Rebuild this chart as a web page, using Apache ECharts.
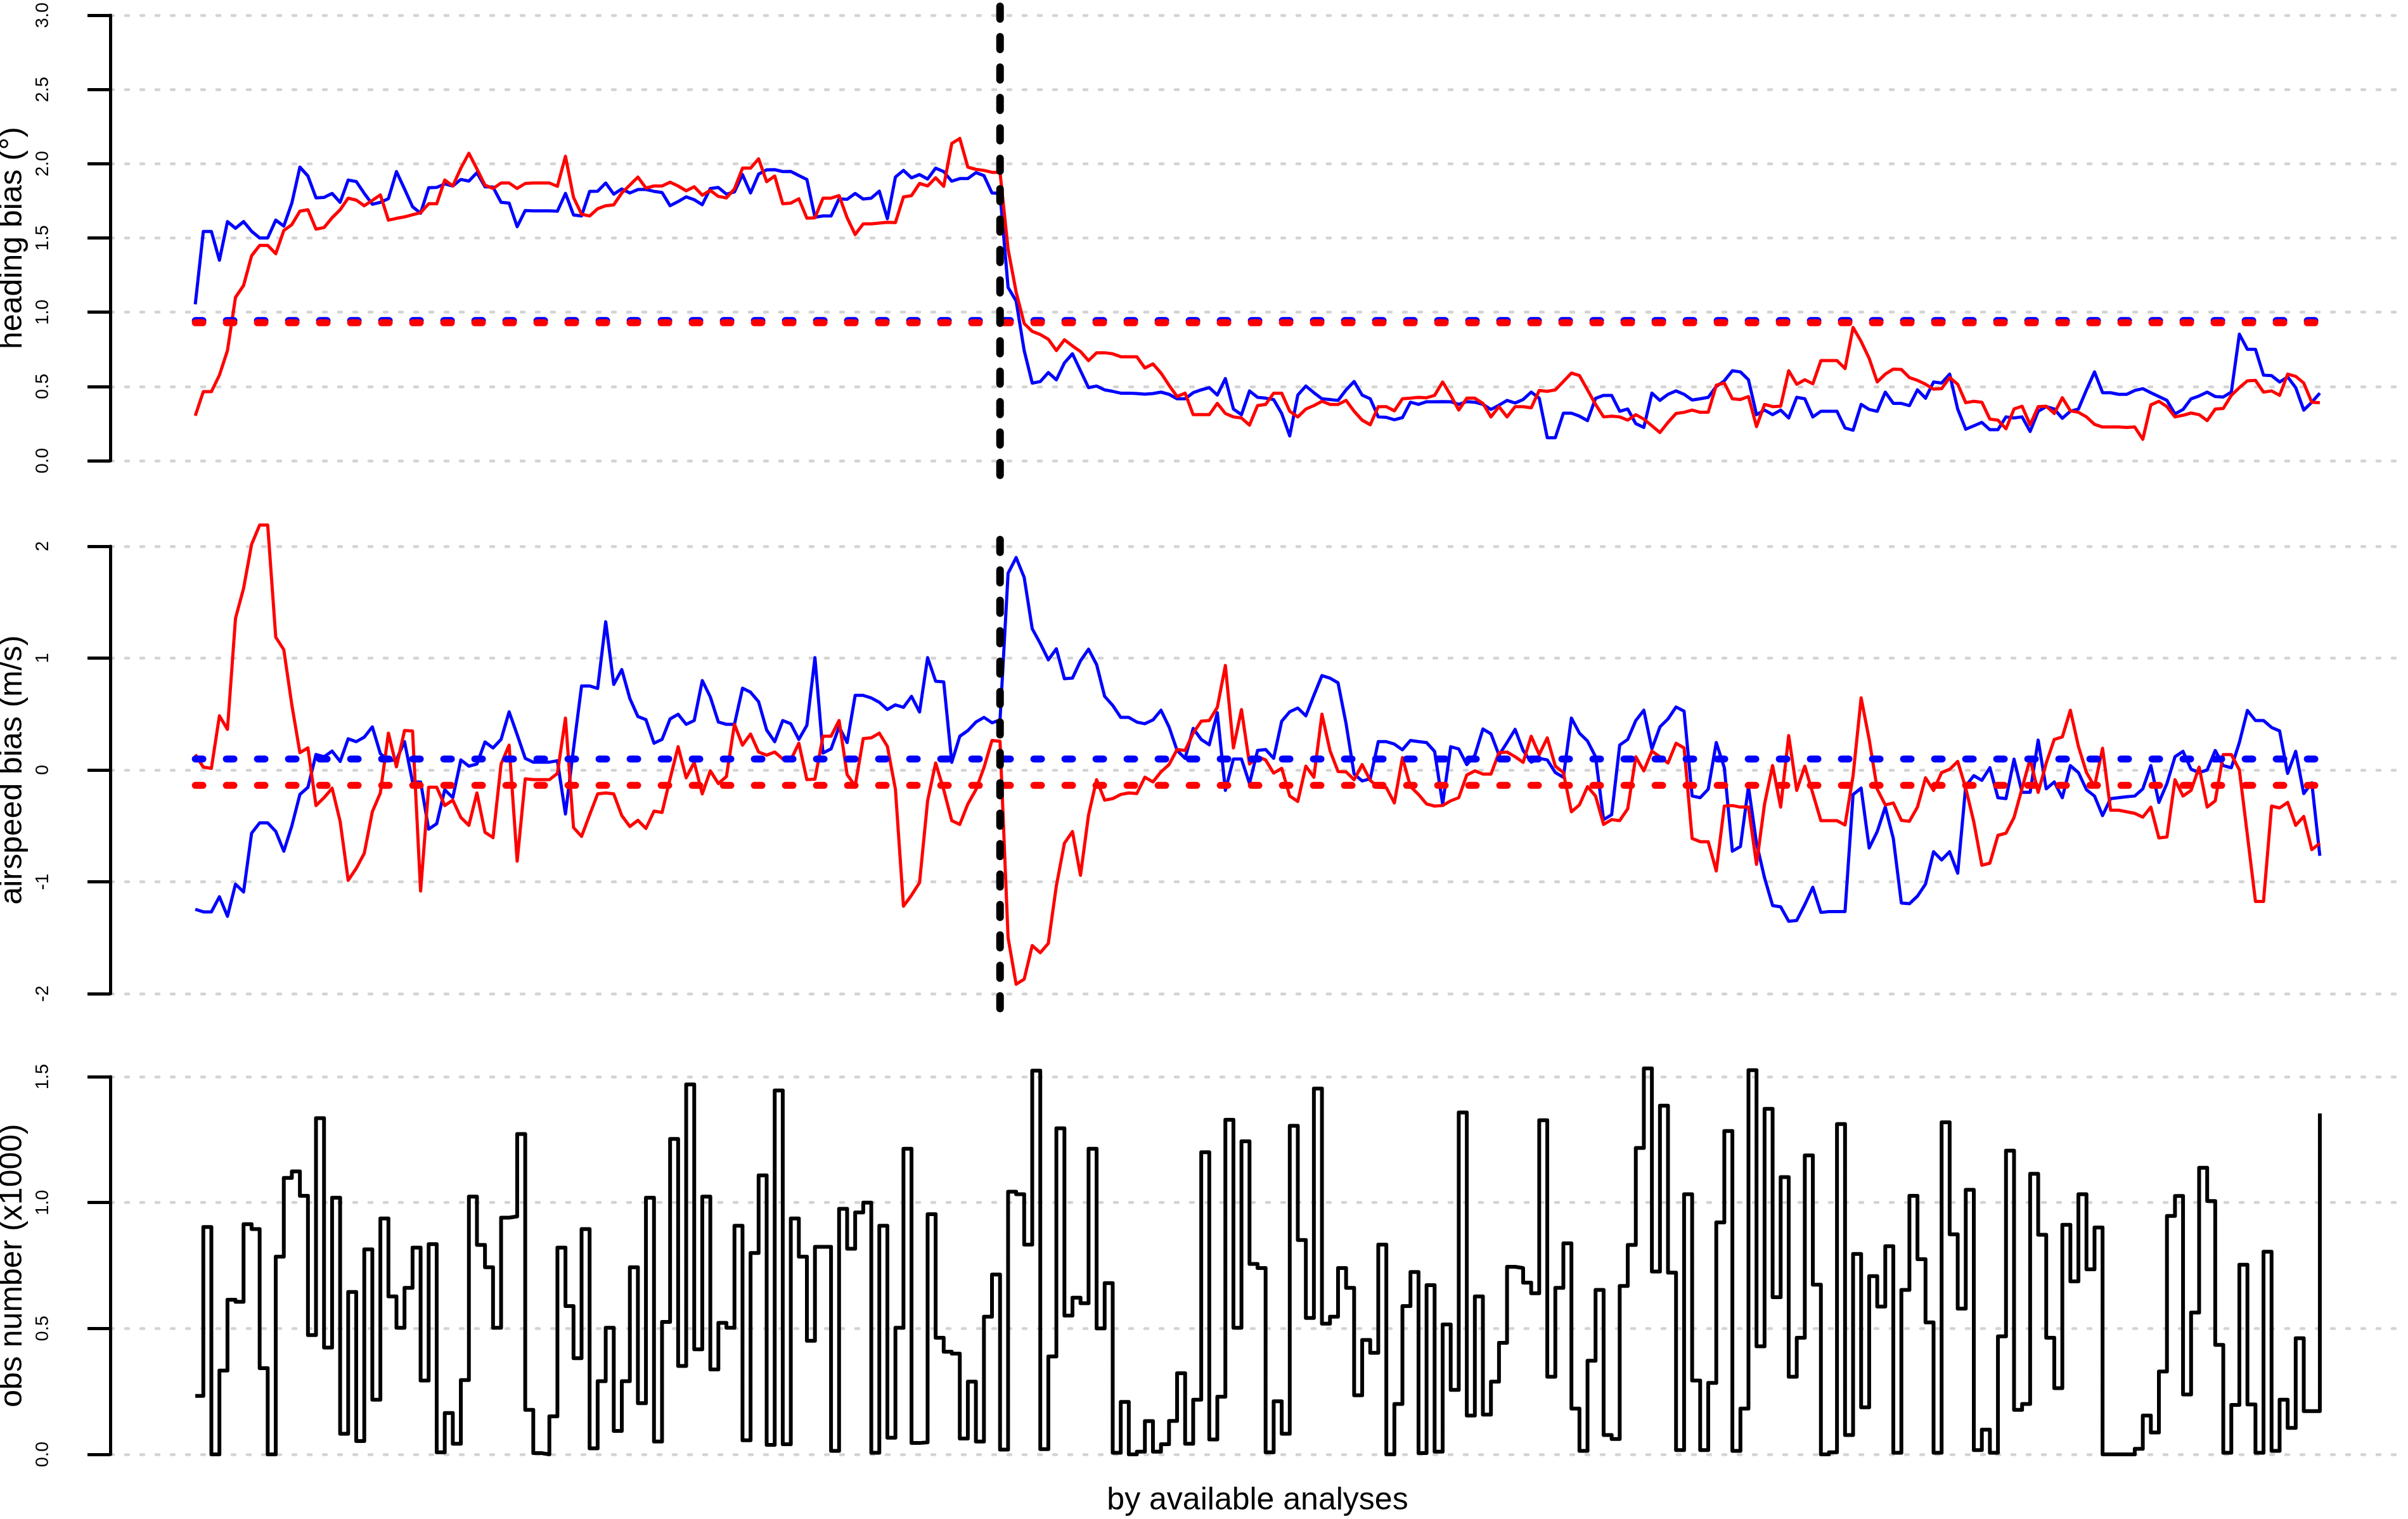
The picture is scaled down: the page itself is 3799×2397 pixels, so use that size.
<!DOCTYPE html>
<html>
<head>
<meta charset="utf-8">
<title>heading / airspeed bias</title>
<script src="https://cdn.jsdelivr.net/npm/echarts@6/dist/echarts.min.js"></script>
<style>
	html, body { margin: 0; padding: 0; background: #fff; }
	#main { width: 3799px; height: 2397px; }
</style>
</head>
<body>
<div id="main"></div>
<script>
// x = analysis index 0..264, the vertical line marks index 100
const VLINE_X = 100;

// heading bias (deg)
const headingBlue = [
	1.053, 1.544, 1.544, 1.35, 1.61, 1.565, 1.61, 1.545, 1.50, 1.50,
	1.62, 1.58, 1.735, 1.977, 1.917, 1.77, 1.773, 1.80, 1.74, 1.89,
	1.88, 1.80, 1.727, 1.74, 1.765, 1.947, 1.83, 1.71, 1.667, 1.838,
	1.84, 1.864, 1.85, 1.894, 1.883, 1.94, 1.845, 1.842, 1.74, 1.735,
	1.576, 1.685, 1.682, 1.682, 1.682, 1.68, 1.80, 1.655, 1.648, 1.814,
	1.815, 1.87, 1.795, 1.83, 1.803, 1.826, 1.826, 1.814, 1.806, 1.717,
	1.745, 1.777, 1.758, 1.724, 1.833, 1.84, 1.795, 1.81, 1.927, 1.803,
	1.93, 1.959, 1.96, 1.947, 1.948, 1.92, 1.894, 1.64, 1.648, 1.648,
	1.764, 1.76, 1.80, 1.762, 1.768, 1.815, 1.63, 1.91, 1.955,
	1.905, 1.927, 1.897, 1.97, 1.947, 1.882, 1.90, 1.90, 1.94, 1.92,
	1.803, 1.80, 1.167, 1.076, 0.742, 0.523, 0.533, 0.594, 0.545, 0.659,
	0.72, 0.606, 0.492, 0.503, 0.477, 0.467, 0.455, 0.455, 0.452, 0.448,
	0.452, 0.462, 0.447, 0.417, 0.417, 0.458, 0.477, 0.492, 0.442, 0.553,
	0.348, 0.31, 0.47, 0.427, 0.421, 0.412, 0.318, 0.167, 0.442, 0.503,
	0.458, 0.417, 0.412, 0.406, 0.477, 0.533, 0.442, 0.417, 0.295, 0.292,
	0.276, 0.29, 0.394, 0.379, 0.397, 0.397, 0.398, 0.397, 0.379, 0.398,
	0.394, 0.379, 0.345, 0.374, 0.406, 0.389, 0.412, 0.462, 0.421, 0.155,
	0.155, 0.32, 0.32, 0.30, 0.27, 0.42, 0.44, 0.44,
	0.333, 0.348, 0.25, 0.224, 0.455, 0.406, 0.447, 0.47, 0.447, 0.409,
	0.417, 0.427, 0.50, 0.538, 0.606, 0.598, 0.545, 0.31, 0.341, 0.31,
	0.341, 0.288, 0.427, 0.417, 0.295, 0.333, 0.333, 0.333, 0.22, 0.205,
	0.379, 0.345, 0.333, 0.462, 0.386, 0.386, 0.371, 0.477, 0.421, 0.53,
	0.523, 0.583, 0.348, 0.212, 0.235, 0.258, 0.209, 0.209, 0.295, 0.288,
	0.295, 0.197, 0.333, 0.364, 0.348, 0.285, 0.333, 0.348, 0.477, 0.598,
	0.458, 0.458, 0.447, 0.447, 0.473, 0.485, 0.458, 0.432, 0.406, 0.315,
	0.345, 0.417, 0.436, 0.462, 0.432, 0.429, 0.462, 0.852, 0.75, 0.75,
	0.576, 0.573, 0.53, 0.564, 0.492, 0.341, 0.394, 0.455
];
const headingRed = [
	0.303, 0.465, 0.465, 0.576, 0.742, 1.10, 1.18, 1.38, 1.45, 1.45,
	1.394, 1.55, 1.59, 1.68, 1.69, 1.56, 1.57, 1.636, 1.69, 1.768,
	1.755, 1.717, 1.753, 1.79, 1.62, 1.632, 1.642, 1.656, 1.67, 1.73,
	1.73, 1.89, 1.85, 1.97, 2.07, 1.965, 1.856, 1.833, 1.87, 1.87,
	1.833, 1.867, 1.87, 1.87, 1.87, 1.848, 2.05, 1.773, 1.66, 1.648,
	1.697, 1.717, 1.723, 1.803, 1.856, 1.91, 1.836, 1.85, 1.85, 1.876,
	1.85, 1.818, 1.845, 1.788, 1.82, 1.78, 1.77, 1.83, 1.97, 1.97,
	2.033, 1.879, 1.917, 1.73, 1.735, 1.764, 1.633, 1.636, 1.768, 1.768,
	1.785, 1.636, 1.523, 1.595, 1.595, 1.60, 1.606, 1.603, 1.776,
	1.785, 1.867, 1.85, 1.905, 1.848, 2.136, 2.17, 1.977, 1.962, 1.955,
	1.942, 1.942, 1.424, 1.136, 0.924, 0.871, 0.85, 0.818, 0.742, 0.814,
	0.773, 0.735, 0.674, 0.727, 0.727, 0.72, 0.70, 0.70, 0.70, 0.624,
	0.652, 0.59, 0.508, 0.432, 0.455, 0.31, 0.31, 0.31, 0.386, 0.318,
	0.295, 0.288, 0.24, 0.371, 0.379, 0.455, 0.455, 0.333, 0.295, 0.348,
	0.371, 0.40, 0.379, 0.379, 0.406, 0.333, 0.273, 0.242, 0.364, 0.364,
	0.336, 0.417, 0.421, 0.427, 0.424, 0.44, 0.53, 0.44, 0.341, 0.421,
	0.421, 0.386, 0.295, 0.364, 0.295, 0.364, 0.364, 0.356, 0.473, 0.467,
	0.477, 0.533, 0.59, 0.573, 0.477, 0.379, 0.295, 0.30,
	0.295, 0.273, 0.31, 0.28, 0.235, 0.19, 0.258, 0.318, 0.326, 0.341,
	0.326, 0.326, 0.508, 0.523, 0.417, 0.412, 0.432, 0.23, 0.379, 0.364,
	0.367, 0.606, 0.515, 0.545, 0.518, 0.674, 0.674, 0.674, 0.621, 0.897,
	0.803, 0.689, 0.53, 0.583, 0.617, 0.614, 0.56, 0.541, 0.515, 0.482,
	0.485, 0.56, 0.515, 0.391, 0.40, 0.394, 0.28, 0.273, 0.215, 0.348,
	0.367, 0.242, 0.364, 0.367, 0.318, 0.424, 0.336, 0.326, 0.295, 0.245,
	0.227, 0.227, 0.227, 0.224, 0.227, 0.144, 0.376, 0.40, 0.364, 0.295,
	0.306, 0.321, 0.31, 0.27, 0.348, 0.352, 0.44, 0.492, 0.538, 0.541,
	0.462, 0.47, 0.44, 0.583, 0.568, 0.523, 0.394, 0.39
];
const headingMeanBlue = 0.944;
const headingMeanRed = 0.929;

// airspeed bias (m/s)
const airBlue = [
	-1.246, -1.269, -1.269, -1.134, -1.308, -1.021, -1.091, -0.565, -0.473, -0.473,
	-0.549, -0.726, -0.50, -0.219, -0.155, 0.138, 0.118, 0.169, 0.076, 0.278,
	0.253, 0.293, 0.385, 0.146, 0.082, 0.09, 0.253, -0.107, -0.107, -0.529,
	-0.481, -0.177, -0.248, 0.09, 0.034, 0.053, 0.25, 0.197, 0.273, 0.52,
	0.315, 0.104, 0.07, 0.07, 0.07, 0.082, -0.394, 0.188, 0.751, 0.751,
	0.729, 1.325, 0.765, 0.897, 0.639, 0.478, 0.45, 0.239, 0.273, 0.456,
	0.498, 0.408, 0.442, 0.799, 0.653, 0.428, 0.408, 0.408, 0.731, 0.695,
	0.61, 0.357, 0.253, 0.442, 0.413, 0.273, 0.40, 1.004, 0.152, 0.188,
	0.385, 0.245, 0.667, 0.667, 0.644, 0.605, 0.54, 0.582, 0.56,
	0.658, 0.518, 1.004, 0.793, 0.788, 0.068, 0.301, 0.352, 0.428, 0.47,
	0.422, 0.447, 1.758, 1.899, 1.722, 1.263, 1.131, 0.985, 1.083, 0.816,
	0.821, 0.976, 1.08, 0.942, 0.658, 0.577, 0.47, 0.47, 0.428, 0.413,
	0.447, 0.534, 0.385, 0.174, 0.104, 0.371, 0.273, 0.225, 0.512, -0.183,
	0.098, 0.098, -0.121, 0.174, 0.183, 0.104, 0.436, 0.52, 0.554, 0.484,
	0.667, 0.844, 0.821, 0.779, 0.413, -0.037, -0.098, -0.079, 0.253, 0.253,
	0.231, 0.18, 0.264, 0.253, 0.245, 0.166, -0.304, 0.208, 0.188, 0.048,
	0.132, 0.366, 0.323, 0.132, 0.245, 0.363, 0.174, 0.07, 0.104, 0.09,
	-0.023, -0.065, 0.464, 0.329, 0.259, 0.118, -0.444, -0.40,
	0.222, 0.273, 0.442, 0.534, 0.188, 0.385, 0.456, 0.563, 0.526, -0.233,
	-0.248, -0.172, 0.245, 0.02, -0.726, -0.684, -0.149, -0.655, -0.965, -1.212,
	-1.224, -1.353, -1.345, -1.204, -1.049, -1.274, -1.266, -1.266, -1.266,
	-0.219, -0.163, -0.698, -0.551, -0.332, -0.613, -1.19, -1.196, -1.128, -1.021,
	-0.731, -0.804, -0.731, -0.923, -0.143, -0.051, -0.093, 0.02, -0.248, -0.256,
	0.096, -0.20, -0.20, 0.267, -0.169, -0.107, -0.248, 0.039, -0.023, -0.177,
	-0.233, -0.408, -0.256, -0.248, -0.239, -0.233, -0.169, 0.039, -0.29, -0.121,
	0.118, 0.166, 0.006, -0.023, 0, 0.174, 0.039, 0.02, 0.245, 0.532,
	0.442, 0.442, 0.38, 0.349, -0.031, 0.166, -0.211, -0.115, -0.768
];
const airRed = [
	0.138, 0.025, 0.014, 0.484, 0.363, 1.356, 1.623, 2.017, 2.19, 2.19,
	1.187, 1.075, 0.582, 0.155, 0.197, -0.318, -0.248, -0.163, -0.459, -0.987,
	-0.88, -0.745, -0.374, -0.205, 0.329, 0.028, 0.352, 0.349, -1.083, -0.155,
	-0.155, -0.318, -0.27, -0.425, -0.495, -0.205, -0.557, -0.605, 0.053, 0.222,
	-0.816, -0.079, -0.087, -0.087, -0.087, -0.031, 0.464, -0.515, -0.594, -0.402,
	-0.214, -0.205, -0.214, -0.408, -0.506, -0.45, -0.523, -0.368, -0.38, -0.079,
	0.208, -0.07, 0.068, -0.214, -0.008, -0.121, -0.059, 0.408, 0.222, 0.321,
	0.16, 0.132, 0.16, 0.098, 0.09, 0.239, -0.087, -0.082, 0.301, 0.301,
	0.442, -0.042, -0.143, 0.281, 0.287, 0.329, 0.211, -0.172, -1.218,
	-1.12, -1.007, -0.276, 0.062, -0.177, -0.453, -0.487, -0.304, -0.177, 0.02,
	0.264, 0.256, -1.50, -1.916, -1.871, -1.57, -1.634, -1.55, -1.035, -0.655,
	-0.551, -0.942, -0.402, -0.087, -0.27, -0.256, -0.219, -0.205, -0.211, -0.065,
	-0.107, -0.017, 0.048, 0.183, 0.174, 0.329, 0.436, 0.442, 0.56, 0.934,
	0.197, 0.54, 0.053, 0.118, 0.09, -0.028, 0.014, -0.233, -0.281, 0.034,
	-0.065, 0.498, 0.174, -0.014, -0.017, -0.087, 0.048, -0.093, -0.155, -0.158,
	-0.295, 0.11, -0.149, -0.219, -0.304, -0.323, -0.318, -0.276, -0.248, -0.045,
	-0.008, -0.037, -0.037, 0.155, 0.16, 0.118, 0.068, 0.301, 0.138, 0.287,
	0.034, -0.023, -0.374, -0.312, -0.149, -0.233, -0.487, -0.444,
	-0.453, -0.346, 0.118, -0.008, 0.169, 0.118, 0.062, 0.239, 0.197, -0.613,
	-0.641, -0.641, -0.903, -0.323, -0.318, -0.332, -0.332, -0.844, -0.304, 0.039,
	-0.332, 0.307, -0.183, 0.034, -0.211, -0.453, -0.453, -0.453,
	-0.492, -0.051, 0.644, 0.273, -0.172, -0.312, -0.295, -0.45, -0.459, -0.332,
	-0.07, -0.183, -0.023, 0.006, 0.076, -0.163, -0.464, -0.852, -0.833, -0.585,
	-0.565, -0.425, -0.163, 0.098, -0.20, 0.062, 0.273, 0.295, 0.534, 0.211,
	-0.023, -0.149, 0.194, -0.36, -0.36, -0.374, -0.388, -0.422, -0.332, -0.608,
	-0.599, -0.087, -0.233, -0.183, 0.025, -0.332, -0.276, 0.138, 0.138, 0,
	-0.585, -1.176, -1.176, -0.323, -0.34, -0.29, -0.495, -0.416, -0.712, -0.655
];
const airMeanBlue = 0.098;
const airMeanRed = -0.138;

// obs number (x1000)
const obsCount = [
	0.232, 0.903, 0, 0.333, 0.614, 0.606, 0.914, 0.895, 0.342, 0,
	0.785, 1.098, 1.124, 1.027, 0.474, 1.335, 0.424, 1.019, 0.082, 0.645,
	0.053, 0.814, 0.217, 0.937, 0.627, 0.503, 0.661, 0.821, 0.293, 0.835,
	0.008, 0.164, 0.042, 0.295, 1.024, 0.832, 0.743, 0.503, 0.94, 0.945,
	1.272, 0.177, 0.005, 0, 0.151, 0.821, 0.589, 0.382, 0.895, 0.024,
	0.291, 0.503, 0.093, 0.291, 0.743, 0.203, 1.019, 0.051, 0.526, 1.253,
	0.351, 1.469, 0.417, 1.024, 0.337, 0.522, 0.503, 0.908, 0.056, 0.80,
	1.108, 0.038, 1.445, 0.04, 0.937, 0.785, 0.451, 0.824, 0.824, 0.014,
	0.975, 0.817, 0.961, 1.0, 0.006, 0.908, 0.066, 0.503,
	1.214, 0.045, 0.048, 0.954, 0.463, 0.408, 0.40, 0.063, 0.289, 0.051,
	0.547, 0.714, 0.019, 1.043, 1.033, 0.833, 1.524, 0.021, 0.389, 1.295,
	0.551, 0.622, 0.60, 1.214, 0.50, 0.68, 0.006, 0.208, 0, 0.011,
	0.132, 0.011, 0.04, 0.133, 0.322, 0.042, 0.217, 1.20, 0.059, 0.229,
	1.329, 0.503, 1.243, 0.756, 0.74, 0.008, 0.211, 0.082, 1.305, 0.851,
	0.542, 1.453, 0.519, 0.547, 0.74, 0.661, 0.235, 0.454, 0.403, 0.833,
	0, 0.20, 0.589, 0.724, 0.005, 0.672, 0.011, 0.516, 0.256, 1.358,
	0.154, 0.627, 0.158, 0.289, 0.443, 0.745, 0.74, 0.682, 0.64, 1.327,
	0.308, 0.661, 0.838, 0.182, 0.014, 0.372, 0.653, 0.077,
	0.061, 0.669, 0.832, 1.217, 1.533, 0.726, 1.385, 0.722, 0.017, 1.033,
	0.293, 0.017, 0.284, 0.921, 1.284, 0.014, 0.182, 1.526, 0.429, 1.372,
	0.624, 1.101, 0.308, 0.463, 1.187, 0.674, 0, 0.008, 1.312, 0.077,
	0.796, 0.187, 0.708, 0.587, 0.827, 0.006, 0.653, 1.027, 0.775, 0.524,
	0.006, 1.319, 0.874, 0.579, 1.051, 0.017, 0.098, 0.006, 0.469, 1.206,
	0.177, 0.20, 1.114, 0.872, 0.463, 0.263, 0.912, 0.687, 1.033, 0.735,
	0.901, 0, 0, 0, 0, 0.022, 0.154, 0.087, 0.329, 0.947,
	1.026, 0.238, 0.563, 1.138, 1.006, 0.435, 0.006, 0.196, 0.753, 0.198,
	0.006, 0.805, 0.014, 0.217, 0.105, 0.461, 0.172, 0.172, 1.354
];

// y ranges the vertical line is drawn over (R plot region)
const vlineTop = [-0.12, 3.06];
const vlineMid = [-2.17, 2.06];

const chart = echarts.init(document.getElementById('main'), null, { renderer: 'canvas' });

const FONT = 'Liberation Sans, Arial, Helvetica, sans-serif';
const X_MIN = -10.56, X_MAX = 274.56;
const lastX = headingBlue.length - 1;

function pairs(arr) {
	return arr.map(function(v, i) { return [i, v]; });
}

function xAxisFor(idx, withName) {
	return {
		gridIndex: idx,
		type: 'value',
		min: X_MIN,
		max: X_MAX,
		show: !!withName,
		name: withName ? 'by available analyses' : '',
		nameLocation: 'middle',
		nameGap: 48,
		nameTextStyle: { color: '#000', fontSize: 50, fontFamily: FONT },
		axisLine: { show: false, onZero: false },
		axisTick: { show: false },
		axisLabel: { show: false },
		splitLine: { show: false }
	};
}

function yAxisFor(idx, name, min, max, interval, fmt) {
	return {
		gridIndex: idx,
		type: 'value',
		min: min,
		max: max,
		interval: interval,
		name: name,
		nameLocation: 'middle',
		nameRotate: 90,
		nameGap: 127,
		nameTextStyle: { color: '#000', fontSize: 50, fontFamily: FONT },
		axisLine: { show: true, onZero: false, lineStyle: { color: '#000', width: 5 } },
		axisTick: { show: true, length: 36, lineStyle: { color: '#000', width: 5 } },
		axisLabel: {
			rotate: 90,
			margin: 92,
			color: '#000',
			fontSize: 29,
			fontFamily: FONT,
			formatter: fmt
		},
		splitLine: {
			show: true,
			lineStyle: { color: '#d3d3d3', width: 4.6, type: [5, 19], cap: 'round' }
		}
	};
}

function lineSeries(idx, data, color, width) {
	return {
		type: 'line',
		xAxisIndex: idx,
		yAxisIndex: idx,
		data: data,
		showSymbol: false,
		clip: false,
		silent: true,
		lineStyle: { color: color, width: width, join: 'round' }
	};
}

function meanSeries(idx, value, color) {
	return {
		type: 'line',
		xAxisIndex: idx,
		yAxisIndex: idx,
		data: [[0, value], [lastX, value]],
		showSymbol: false,
		clip: false,
		silent: true,
		lineStyle: { color: color, width: 11, type: [12, 37], cap: 'round' }
	};
}

function vlineSeries(idx, range) {
	return {
		type: 'line',
		xAxisIndex: idx,
		yAxisIndex: idx,
		data: [[VLINE_X, range[1]], [VLINE_X, range[0]]],
		showSymbol: false,
		clip: false,
		silent: true,
		lineStyle: { color: '#000', width: 12, type: [20, 28], cap: 'round' }
	};
}

const fmt1 = function(v) { return v.toFixed(1); };
const fmt0 = function(v) { return String(v); };

let option = {
	backgroundColor: '#ffffff',
	animation: false,
	grid: [
		{ left: 174, right: 5, top: 24, height: 703, containLabel: false, outerBoundsMode: 'none' },
		{ left: 174, right: 5, top: 862, height: 706, containLabel: false, outerBoundsMode: 'none' },
		{ left: 174, right: 5, top: 1699, height: 596, containLabel: false, outerBoundsMode: 'none' }
	],
	xAxis: [xAxisFor(0, false), xAxisFor(1, false), xAxisFor(2, true)],
	yAxis: [
		yAxisFor(0, 'heading bias (°)', 0, 3, 0.5, fmt1),
		yAxisFor(1, 'airspeed bias (m/s)', -2, 2, 1, fmt0),
		yAxisFor(2, 'obs number (x1000)', 0, 1.5, 0.5, fmt1)
	],
	series: [
		lineSeries(0, pairs(headingBlue), '#0000ff', 5),
		lineSeries(0, pairs(headingRed), '#ff0000', 5),
		meanSeries(0, headingMeanBlue, '#0000ff'),
		meanSeries(0, headingMeanRed, '#ff0000'),
		vlineSeries(0, vlineTop),

		lineSeries(1, pairs(airBlue), '#0000ff', 5),
		lineSeries(1, pairs(airRed), '#ff0000', 5),
		meanSeries(1, airMeanBlue, '#0000ff'),
		meanSeries(1, airMeanRed, '#ff0000'),
		vlineSeries(1, vlineMid),

		Object.assign(lineSeries(2, pairs(obsCount), '#000000', 6), { step: 'end' })
	]
};
chart.setOption(option);
</script>
</body>
</html>
